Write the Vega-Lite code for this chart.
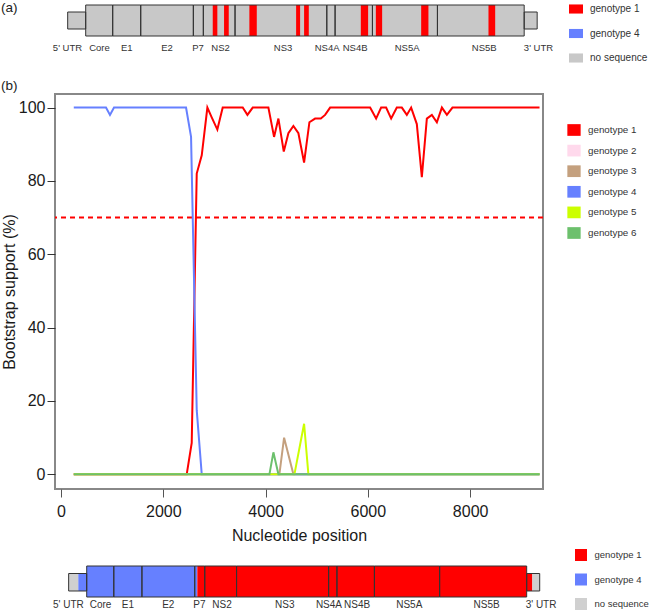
{
  "$schema": "https://vega.github.io/schema/vega-lite/v6.json",
  "background": "white",
  "padding": {"left": 0, "top": 0, "right": 0, "bottom": 0},
  "spacing": 37,
  "bounds": "flush",
  "config": {
    "font": "Liberation Sans",
    "view": {"stroke": null},
    "title": {"font": "Liberation Sans", "fontSize": 13.5, "fontWeight": "normal", "color": "#222222"},
    "axis": {"labelFont": "Liberation Sans", "titleFont": "Liberation Sans", "grid": false},
    "legend": {"labelFont": "Liberation Sans", "labelColor": "#333333", "padding": 0}
  },
  "datasets": {
    "genes": [
      {"gene": "5' UTR", "start": 131, "end": 483, "label_at": 127, "region": "UTR"},
      {"gene": "Core", "start": 483, "end": 1011, "label_at": 753, "region": "coding"},
      {"gene": "E1", "start": 1011, "end": 1559, "label_at": 1285, "region": "coding"},
      {"gene": "E2", "start": 1559, "end": 2588, "label_at": 2073, "region": "coding"},
      {"gene": "P7", "start": 2588, "end": 2783, "label_at": 2680, "region": "coding"},
      {"gene": "NS2", "start": 2783, "end": 3403, "label_at": 3120, "region": "coding"},
      {"gene": "NS3", "start": 3403, "end": 5197, "label_at": 4342, "region": "coding"},
      {"gene": "NS4A", "start": 5197, "end": 5359, "label_at": 5203, "region": "coding"},
      {"gene": "NS4B", "start": 5359, "end": 6089, "label_at": 5751, "region": "coding"},
      {"gene": "NS5A", "start": 6089, "end": 7360, "label_at": 6768, "region": "coding"},
      {"gene": "NS5B", "start": 7360, "end": 9056, "label_at": 8274, "region": "coding"},
      {"gene": "3' UTR", "start": 9056, "end": 9310, "label_at": 9336, "region": "UTR"}
    ],
    "topFill": [
      {"start": 131, "end": 483, "genotype": "no sequence", "region": "UTR"},
      {"start": 9056, "end": 9310, "genotype": "no sequence", "region": "UTR"},
      {"start": 483, "end": 9056, "genotype": "no sequence", "region": "coding"},
      {"start": 2967, "end": 3057, "genotype": "genotype 1", "region": "coding"},
      {"start": 3188, "end": 3280, "genotype": "genotype 1", "region": "coding"},
      {"start": 3683, "end": 3828, "genotype": "genotype 1", "region": "coding"},
      {"start": 4597, "end": 4675, "genotype": "genotype 1", "region": "coding"},
      {"start": 4753, "end": 4845, "genotype": "genotype 1", "region": "coding"},
      {"start": 5862, "end": 6005, "genotype": "genotype 1", "region": "coding"},
      {"start": 6156, "end": 6279, "genotype": "genotype 1", "region": "coding"},
      {"start": 7042, "end": 7184, "genotype": "genotype 1", "region": "coding"},
      {"start": 8358, "end": 8489, "genotype": "genotype 1", "region": "coding"}
    ],
    "bottomFill": [
      {"start": 131, "end": 319, "genotype": "no sequence", "region": "UTR"},
      {"start": 319, "end": 483, "genotype": "genotype 4", "region": "UTR"},
      {"start": 483, "end": 2638, "genotype": "genotype 4", "region": "coding"},
      {"start": 2638, "end": 9056, "genotype": "genotype 1", "region": "coding"},
      {"start": 9056, "end": 9166, "genotype": "genotype 1", "region": "UTR"},
      {"start": 9166, "end": 9310, "genotype": "no sequence", "region": "UTR"}
    ],
    "support": [
      {"genotype": "genotype 1", "pos": 250, "support": 0},
      {"genotype": "genotype 1", "pos": 2458, "support": 0},
      {"genotype": "genotype 1", "pos": 2556, "support": 8.6},
      {"genotype": "genotype 1", "pos": 2654, "support": 82},
      {"genotype": "genotype 1", "pos": 2752, "support": 87},
      {"genotype": "genotype 1", "pos": 2862, "support": 100},
      {"genotype": "genotype 1", "pos": 2947, "support": 97.3},
      {"genotype": "genotype 1", "pos": 3057, "support": 94},
      {"genotype": "genotype 1", "pos": 3162, "support": 100},
      {"genotype": "genotype 1", "pos": 3553, "support": 100},
      {"genotype": "genotype 1", "pos": 3645, "support": 98},
      {"genotype": "genotype 1", "pos": 3749, "support": 100},
      {"genotype": "genotype 1", "pos": 4055, "support": 100},
      {"genotype": "genotype 1", "pos": 4166, "support": 92},
      {"genotype": "genotype 1", "pos": 4251, "support": 97},
      {"genotype": "genotype 1", "pos": 4356, "support": 88},
      {"genotype": "genotype 1", "pos": 4446, "support": 93},
      {"genotype": "genotype 1", "pos": 4544, "support": 95},
      {"genotype": "genotype 1", "pos": 4642, "support": 93},
      {"genotype": "genotype 1", "pos": 4753, "support": 85},
      {"genotype": "genotype 1", "pos": 4857, "support": 96},
      {"genotype": "genotype 1", "pos": 4968, "support": 97},
      {"genotype": "genotype 1", "pos": 5080, "support": 97},
      {"genotype": "genotype 1", "pos": 5164, "support": 98},
      {"genotype": "genotype 1", "pos": 5262, "support": 100},
      {"genotype": "genotype 1", "pos": 6044, "support": 100},
      {"genotype": "genotype 1", "pos": 6161, "support": 97},
      {"genotype": "genotype 1", "pos": 6259, "support": 100},
      {"genotype": "genotype 1", "pos": 6357, "support": 100},
      {"genotype": "genotype 1", "pos": 6455, "support": 97},
      {"genotype": "genotype 1", "pos": 6566, "support": 100},
      {"genotype": "genotype 1", "pos": 6664, "support": 100},
      {"genotype": "genotype 1", "pos": 6762, "support": 98},
      {"genotype": "genotype 1", "pos": 6846, "support": 100},
      {"genotype": "genotype 1", "pos": 6957, "support": 95.5},
      {"genotype": "genotype 1", "pos": 7055, "support": 81},
      {"genotype": "genotype 1", "pos": 7153, "support": 97},
      {"genotype": "genotype 1", "pos": 7251, "support": 98},
      {"genotype": "genotype 1", "pos": 7349, "support": 96},
      {"genotype": "genotype 1", "pos": 7447, "support": 100},
      {"genotype": "genotype 1", "pos": 7545, "support": 98},
      {"genotype": "genotype 1", "pos": 7654, "support": 100},
      {"genotype": "genotype 1", "pos": 9356, "support": 100},
      {"genotype": "genotype 2", "pos": 250, "support": 0},
      {"genotype": "genotype 2", "pos": 9356, "support": 0},
      {"genotype": "genotype 3", "pos": 250, "support": 0},
      {"genotype": "genotype 3", "pos": 4270, "support": 0},
      {"genotype": "genotype 3", "pos": 4362, "support": 10},
      {"genotype": "genotype 3", "pos": 4544, "support": 0},
      {"genotype": "genotype 3", "pos": 9356, "support": 0},
      {"genotype": "genotype 4", "pos": 250, "support": 100},
      {"genotype": "genotype 4", "pos": 880, "support": 100},
      {"genotype": "genotype 4", "pos": 958, "support": 98},
      {"genotype": "genotype 4", "pos": 1037, "support": 100},
      {"genotype": "genotype 4", "pos": 2445, "support": 100},
      {"genotype": "genotype 4", "pos": 2543, "support": 92},
      {"genotype": "genotype 4", "pos": 2654, "support": 17.5},
      {"genotype": "genotype 4", "pos": 2752, "support": 0},
      {"genotype": "genotype 4", "pos": 9356, "support": 0},
      {"genotype": "genotype 5", "pos": 250, "support": 0},
      {"genotype": "genotype 5", "pos": 4564, "support": 0},
      {"genotype": "genotype 5", "pos": 4753, "support": 13.8},
      {"genotype": "genotype 5", "pos": 4837, "support": 0},
      {"genotype": "genotype 5", "pos": 9356, "support": 0},
      {"genotype": "genotype 6", "pos": 250, "support": 0},
      {"genotype": "genotype 6", "pos": 4075, "support": 0},
      {"genotype": "genotype 6", "pos": 4153, "support": 6},
      {"genotype": "genotype 6", "pos": 4251, "support": 0},
      {"genotype": "genotype 6", "pos": 9356, "support": 0}
    ],
    "threshold": [{"cutoff": 70}]
  },
  "resolve": {"scale": {"x": "independent", "y": "independent", "color": "independent"}, "legend": {"color": "independent"}},
  "vconcat": [
    {
      "width": 488,
      "height": 56,
      "title": {"text": "(a)", "anchor": "start", "frame": "group", "dx": -54, "offset": -13},
      "layer": [
        {
          "data": {"name": "topFill"},
          "transform": [{"filter": "datum.region === 'coding'"}],
          "mark": {"type": "rect"},
          "encoding": {
            "x": {"field": "start", "type": "quantitative", "scale": {"domain": [-117, 9424], "nice": false, "zero": false}, "axis": null},
            "x2": {"field": "end"},
            "y": {"datum": 0, "type": "quantitative", "scale": {"domain": [-0.677, 1.129], "nice": false, "zero": false}, "axis": null},
            "y2": {"datum": 1},
            "color": {
              "field": "genotype", "type": "nominal",
              "scale": {"domain": ["genotype 1", "genotype 4", "no sequence"], "range": ["#ff0000", "#6680ff", "#c8c8c8"]},
              "legend": {"orient": "none", "legendX": 514, "legendY": 1, "title": null, "symbolType": "M-1,-0.65H1V0.65H-1Z", "symbolSize": 196, "symbolStrokeWidth": 0, "labelFontSize": 10, "rowPadding": 12.5, "labelOffset": 7}
            }
          }
        },
        {
          "data": {"name": "topFill"},
          "transform": [{"filter": "datum.region === 'UTR'"}],
          "mark": {"type": "rect"},
          "encoding": {
            "x": {"field": "start", "type": "quantitative"},
            "x2": {"field": "end"},
            "y": {"datum": 0.226, "type": "quantitative"},
            "y2": {"datum": 0.774},
            "color": {"field": "genotype", "type": "nominal"}
          }
        },
        {
          "data": {"name": "genes"},
          "transform": [{"filter": "datum.region === 'coding'"}],
          "mark": {"type": "rect", "filled": false, "color": "#333333", "strokeWidth": 1},
          "encoding": {
            "x": {"field": "start", "type": "quantitative"},
            "x2": {"field": "end"},
            "y": {"datum": 0, "type": "quantitative"},
            "y2": {"datum": 1}
          }
        },
        {
          "data": {"name": "genes"},
          "transform": [{"filter": "datum.region === 'UTR'"}],
          "mark": {"type": "rect", "filled": false, "color": "#333333", "strokeWidth": 1},
          "encoding": {
            "x": {"field": "start", "type": "quantitative"},
            "x2": {"field": "end"},
            "y": {"datum": 0.226, "type": "quantitative"},
            "y2": {"datum": 0.774}
          }
        },
        {
          "data": {"name": "genes"},
          "mark": {"type": "text", "fontSize": 9.5, "color": "#333333", "baseline": "middle"},
          "encoding": {
            "x": {"field": "label_at", "type": "quantitative"},
            "y": {"datum": -0.38, "type": "quantitative"},
            "text": {"field": "gene"}
          }
        }
      ]
    },
    {
      "width": 488,
      "height": 395,
      "title": {"text": "(b)", "anchor": "start", "frame": "group", "dx": -54, "offset": 2},
      "view": {"stroke": "#888888", "strokeWidth": 2},
      "layer": [
        {
          "data": {"name": "threshold"},
          "mark": {"type": "rule", "color": "#ff0000", "strokeWidth": 2, "strokeDash": [5, 4]},
          "encoding": {
            "y": {"field": "cutoff", "type": "quantitative"}
          }
        },
        {
          "data": {"name": "support"},
          "mark": {"type": "line", "strokeWidth": 2},
          "encoding": {
            "x": {
              "field": "pos", "type": "quantitative",
              "scale": {"domain": [-117, 9424], "nice": false, "zero": false},
              "axis": {"values": [0, 2000, 4000, 6000, 8000], "format": "d", "domain": false, "tickSize": 8, "tickColor": "#555555", "labelFontSize": 16, "labelColor": "#1a1a1a", "labelPadding": 6, "title": "Nucleotide position", "titleFontSize": 16, "titleFontWeight": "normal", "titleColor": "#1a1a1a", "titlePadding": 8}
            },
            "y": {
              "field": "support", "type": "quantitative",
              "scale": {"domain": [-4, 103.7], "nice": false, "zero": false},
              "axis": {"values": [0, 20, 40, 60, 80, 100], "domain": false, "tickSize": 8, "tickColor": "#333333", "labelFontSize": 16, "labelColor": "#1a1a1a", "labelPadding": 2, "title": "Bootstrap support (%)", "titleFontSize": 16, "titleFontWeight": "normal", "titleColor": "#1a1a1a", "titlePadding": 1}
            },
            "color": {
              "field": "genotype", "type": "nominal",
              "scale": {"domain": ["genotype 1", "genotype 2", "genotype 3", "genotype 4", "genotype 5", "genotype 6"], "range": ["#ff0000", "#ffd9ec", "#c4a07e", "#6680ff", "#ccff00", "#6cc06c"]},
              "legend": {
                "orient": "none", "legendX": 512, "legendY": 29, "title": null,
                "symbolType": "M-1,-0.88H1V0.88H-1Z", "symbolSize": 177, "symbolStrokeWidth": 0,
                "labelFontSize": 9.8, "rowPadding": 7.6, "labelOffset": 7,
                "encode": {"symbols": {"update": {"fill": {"scale": "concat_1_color", "field": "value"}, "strokeWidth": {"value": 0}, "opacity": {"value": 1}}}}
              }
            }
          }
        }
      ]
    },
    {
      "width": 488,
      "height": 88,
      "layer": [
        {
          "data": {"name": "bottomFill"},
          "transform": [{"filter": "datum.region === 'coding'"}],
          "mark": {"type": "rect"},
          "encoding": {
            "x": {"field": "start", "type": "quantitative", "scale": {"domain": [-135, 9374], "nice": false, "zero": false}, "axis": null},
            "x2": {"field": "end"},
            "y": {"datum": 0, "type": "quantitative", "scale": {"domain": [-0.548, 2.29], "nice": false, "zero": false}, "axis": null},
            "y2": {"datum": 1},
            "color": {
              "field": "genotype", "type": "nominal",
              "scale": {"domain": ["genotype 1", "genotype 4", "no sequence"], "range": ["#ff0000", "#6680ff", "#d0d0d0"]},
              "legend": {"orient": "none", "legendX": 520, "legendY": 23, "title": null, "symbolType": "square", "symbolSize": 144, "symbolStrokeWidth": 0, "labelFontSize": 9.5, "rowPadding": 12.5, "labelOffset": 7.5}
            }
          }
        },
        {
          "data": {"name": "bottomFill"},
          "transform": [{"filter": "datum.region === 'UTR'"}],
          "mark": {"type": "rect"},
          "encoding": {
            "x": {"field": "start", "type": "quantitative"},
            "x2": {"field": "end"},
            "y": {"datum": 0.194, "type": "quantitative"},
            "y2": {"datum": 0.758},
            "color": {"field": "genotype", "type": "nominal"}
          }
        },
        {
          "data": {"name": "genes"},
          "transform": [{"filter": "datum.region === 'coding'"}],
          "mark": {"type": "rect", "filled": false, "color": "#333333", "strokeWidth": 1},
          "encoding": {
            "x": {"field": "start", "type": "quantitative"},
            "x2": {"field": "end"},
            "y": {"datum": 0, "type": "quantitative"},
            "y2": {"datum": 1}
          }
        },
        {
          "data": {"name": "genes"},
          "transform": [{"filter": "datum.region === 'UTR'"}],
          "mark": {"type": "rect", "filled": false, "color": "#333333", "strokeWidth": 1},
          "encoding": {
            "x": {"field": "start", "type": "quantitative"},
            "x2": {"field": "end"},
            "y": {"datum": 0.194, "type": "quantitative"},
            "y2": {"datum": 0.758}
          }
        },
        {
          "data": {"name": "genes"},
          "mark": {"type": "text", "fontSize": 10, "color": "#333333", "baseline": "middle"},
          "encoding": {
            "x": {"field": "label_at", "type": "quantitative"},
            "y": {"datum": -0.25, "type": "quantitative"},
            "text": {"field": "gene"}
          }
        }
      ]
    }
  ]
}
